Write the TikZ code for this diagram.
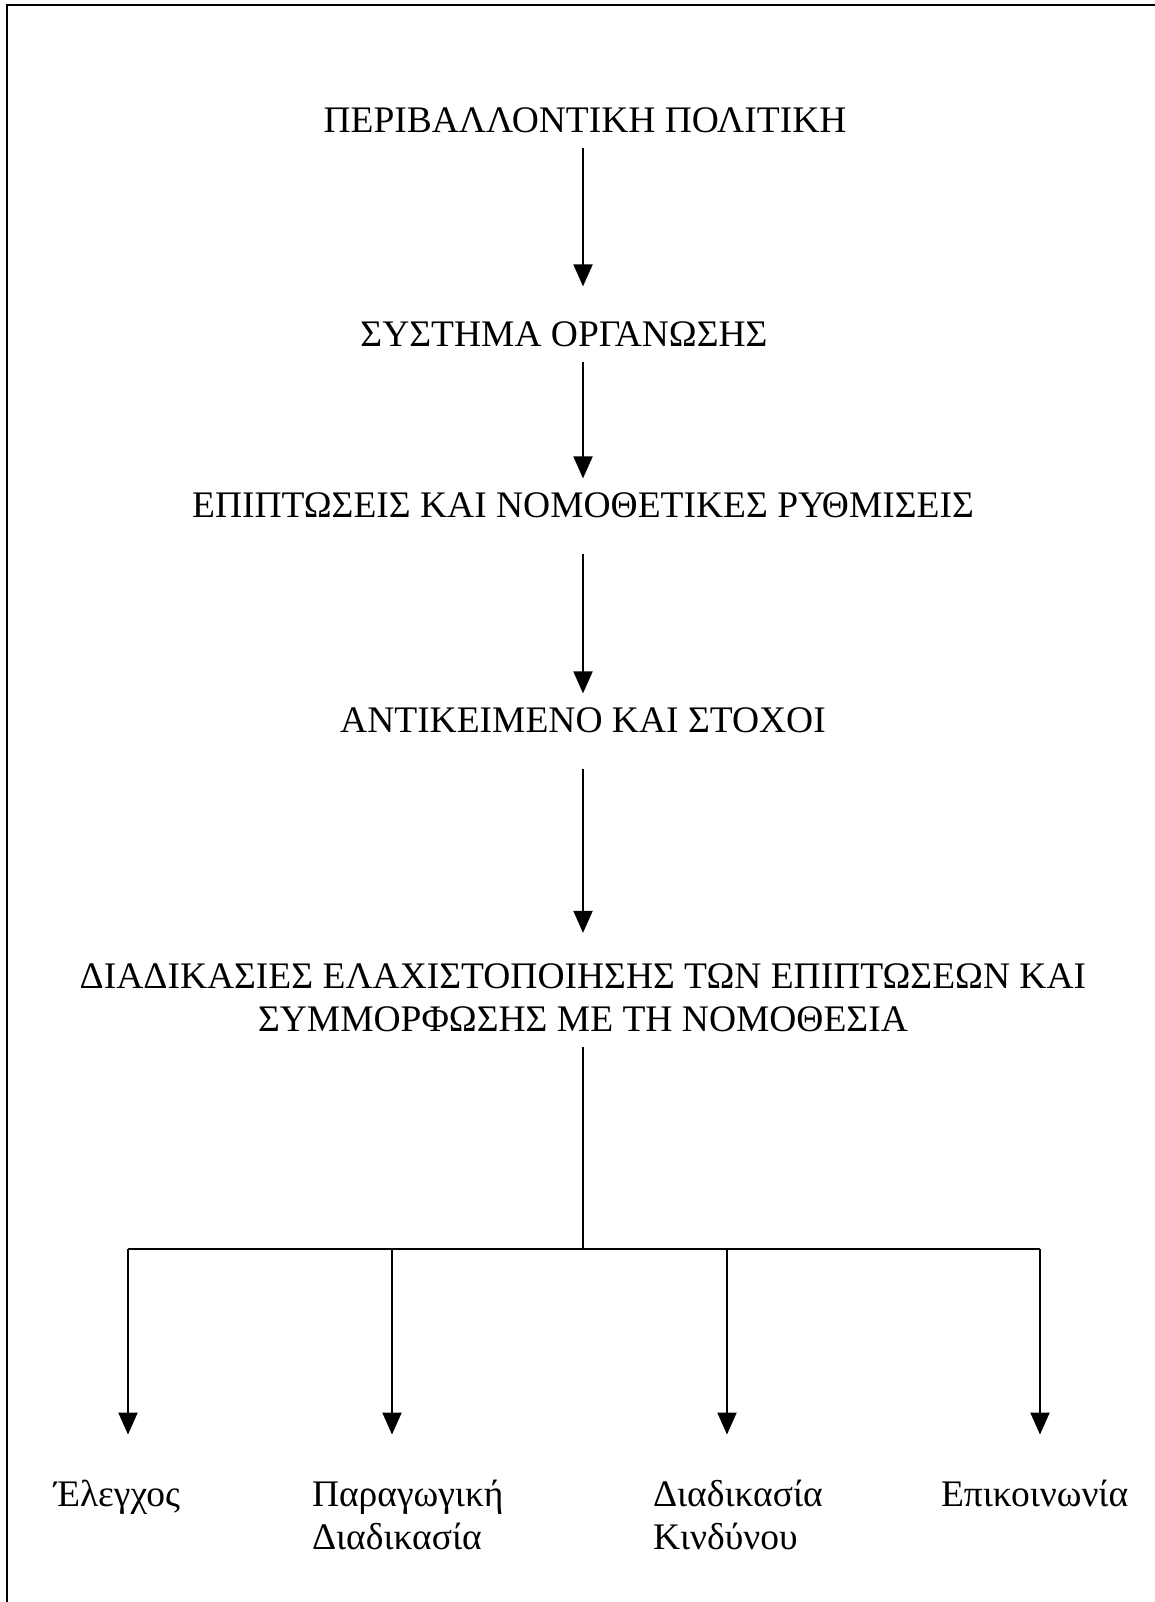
\documentclass[tikz,border=0pt]{standalone}
\usepackage{fontspec}
\setmainfont{Liberation Serif}
\usetikzlibrary{arrows.meta}
\begin{document}
\begin{tikzpicture}[x=1pt, y=-1pt, line width=2pt,
    >={Triangle[length=22pt, width=19pt]},
    every node/.style={font=\fontsize{37.5}{43}\selectfont, inner sep=0pt},
    level/.style={align=center},
    leaf/.style={align=left, anchor=base west}]
  \useasboundingbox (0,0) rectangle (1155,1602);
  % πλαίσιο: μόνο πάνω και αριστερά
  \draw[line width=2.5pt] (1155,5) -- (7,5) -- (7,1602);
  \coordinate (ax) at (583,0);
  % κύρια σειρά
  \node[level] (pol) at (585,120) {ΠΕΡΙΒΑΛΛΟΝΤΙΚΗ ΠΟΛΙΤΙΚΗ};
  \node[level] (org) at (564,334) {ΣΥΣΤΗΜΑ ΟΡΓΑΝΩΣΗΣ};
  \node[level] (epi) at (583,505) {ΕΠΙΠΤΩΣΕΙΣ ΚΑΙ ΝΟΜΟΘΕΤΙΚΕΣ ΡΥΘΜΙΣΕΙΣ};
  \node[level] (ant) at (583,720) {ΑΝΤΙΚΕΙΜΕΝΟ ΚΑΙ ΣΤΟΧΟΙ};
  \node[level] (dia) at (583,998) {ΔΙΑΔΙΚΑΣΙΕΣ ΕΛΑΧΙΣΤΟΠΟΙΗΣΗΣ ΤΩΝ ΕΠΙΠΤΩΣΕΩΝ ΚΑΙ\\ΣΥΜΜΟΡΦΩΣΗΣ ΜΕ ΤΗ ΝΟΜΟΘΕΣΙΑ};
  \draw[->, shorten <=14pt, shorten >=34pt] (ax |- pol.south) -- (ax |- org.north);
  \draw[->, shorten <=14pt, shorten >=13pt] (ax |- org.south) -- (ax |- epi.north);
  \draw[->, shorten <=35pt, shorten >=13pt] (ax |- epi.south) -- (ax |- ant.north);
  \draw[->, shorten <=35pt, shorten >=30pt] (ax |- ant.south) -- (ax |- dia.north);
  % διακλάδωση
  \foreach \n/\x in {1/128,2/392,3/727,4/1040}
    \coordinate (b\n) at (\x,1249);
  \draw[shorten <=14pt] (ax |- dia.south) -- (ax |- b1);
  \draw (b1) -- (b4);
  \node[leaf] (ele) at (53,1506) {Έλεγχος};
  \node[leaf] (par) at (311,1549) {Παραγωγική\\Διαδικασία};
  \node[leaf] (kin) at (652,1549) {Διαδικασία\\Κινδύνου};
  \node[leaf] (epk) at (940,1506) {Επικοινωνία};
  \foreach \b/\l in {b1/ele,b2/par,b3/kin,b4/epk}
    \draw[->, shorten >=44pt] (\b) -- (\b |- \l.north);
\end{tikzpicture}
\end{document}
